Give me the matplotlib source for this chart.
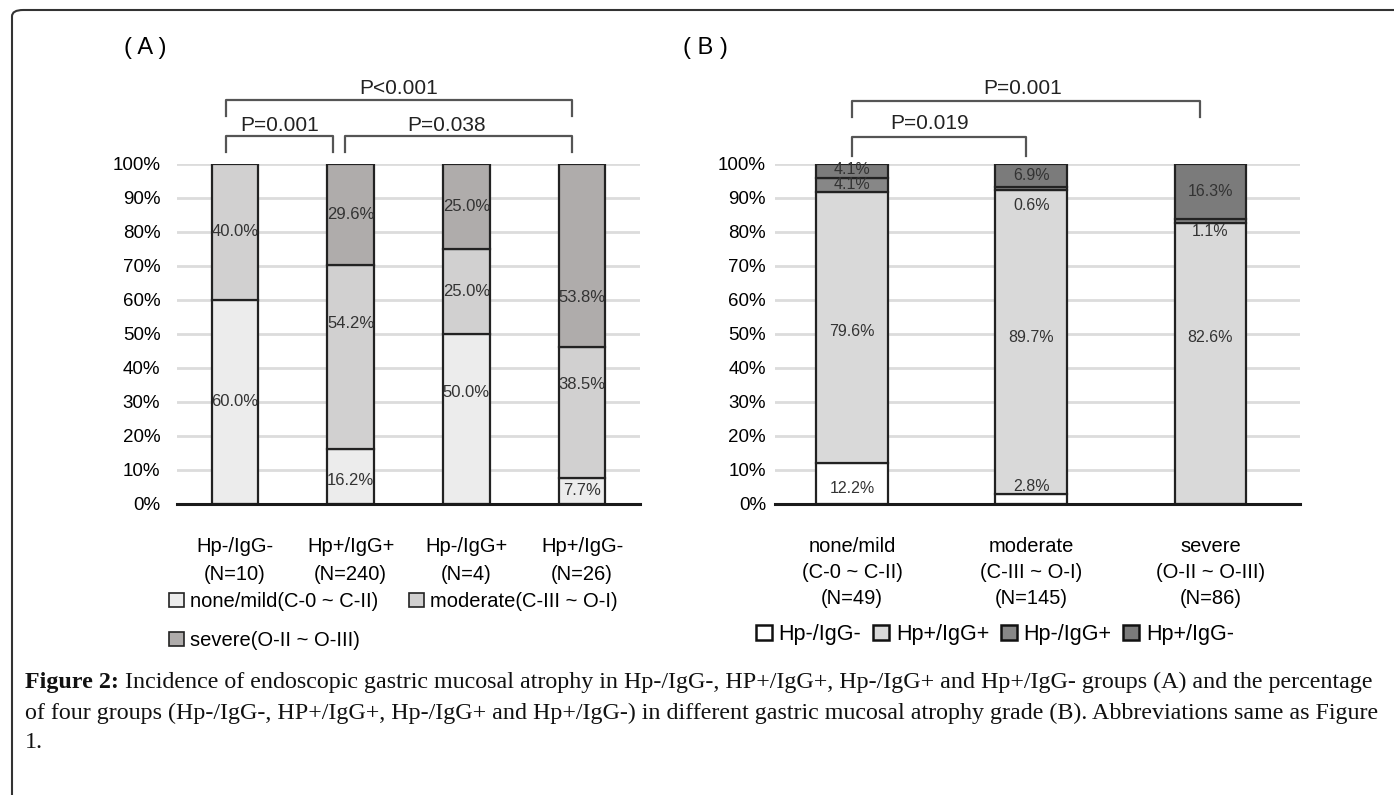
import numpy as np
import matplotlib
matplotlib.use("Agg")
import matplotlib.pyplot as plt
from matplotlib.patches import Patch, FancyBboxPatch

# panel A: atrophy grade (%) within each serology group
groups_a = ["Hp-/IgG-\n(N=10)", "Hp+/IgG+\n(N=240)", "Hp-/IgG+\n(N=4)", "Hp+/IgG-\n(N=26)"]
grades_a = ["none/mild(C-0 ~ C-II)", "moderate(C-III ~ O-I)", "severe(O-II ~ O-III)"]
none_mild = [60.0, 16.2, 50.0, 7.7]
moderate = [40.0, 54.2, 25.0, 38.5]
severe = [0.0, 29.6, 25.0, 53.8]

# panel B: serology group (%) within each atrophy grade
grades_b = ["none/mild\n(C-0 ~ C-II)\n(N=49)", "moderate\n(C-III ~ O-I)\n(N=145)", "severe\n(O-II ~ O-III)\n(N=86)"]
groups_b = ["Hp-/IgG-", "Hp+/IgG+", "Hp-/IgG+", "Hp+/IgG-"]
hpn_iggn = [12.2, 2.8, 0.0]
hpp_iggp = [79.6, 89.7, 82.6]
hpn_iggp = [4.1, 0.6, 1.1]
hpp_iggn = [4.1, 6.9, 16.3]

plt.rcParams['font.family'] = ['Liberation Sans', 'DejaVu Sans']

W, H = 1394, 795
fig = plt.figure(figsize=(W / 100, H / 100), dpi=100)


def px_axes(left, right, top, bottom):
	return fig.add_axes([left / W, 1 - bottom / H, (right - left) / W, (bottom - top) / H])


def style_axes(ax, ypad):
	ax.set_ylim(0, 100)
	ax.set_yticks(np.arange(0, 101, 10))
	ax.set_yticklabels([f"{v}%" for v in range(0, 101, 10)], fontsize=13.5)
	ax.yaxis.grid(True, color="#dcdcdc", lw=2)
	ax.set_axisbelow(True)
	for s in ["left", "right", "top"]:
		ax.spines[s].set_visible(False)
	ax.spines["bottom"].set_linewidth(2.2)
	ax.spines["bottom"].set_color("#1a1a1a")
	ax.tick_params(axis="both", length=0)
	ax.tick_params(axis="y", pad=ypad)
	ax.tick_params(axis="x", pad=24)


def stack(ax, series, colors, label_size, label_offsets={}):
	x = np.arange(len(series[0]))
	bottom = np.zeros(len(x))
	for k, (vals, col) in enumerate(zip(series, colors)):
		vals = np.array(vals)
		for i in range(len(x)):
			if vals[i] <= 0:
				continue
			ax.bar(x[i], vals[i], bottom=bottom[i], width=0.4, color=col,
				edgecolor="#222222", linewidth=1.6)
			dy = label_offsets.get((k, i), 0)
			ax.annotate(f"{vals[i]:.1f}%", (x[i], bottom[i] + vals[i] / 2),
				xytext=(0, dy), textcoords="offset points",
				ha="center", va="center", fontsize=label_size, color="#333333")
		bottom += vals
	return x


def bracket(ax, x0, x1, y_top, y_end, text, y_text, x_text=None):
	ax.plot([x0, x0, x1, x1], [y_end, y_top, y_top, y_end], color="#555555",
		lw=1.6, clip_on=False)
	if x_text is None:
		x_text = (x0 + x1) / 2
	ax.text(x_text, y_text, text, ha="center", va="center", fontsize=15,
		color="#222222", clip_on=False)


# ---- panel A ----
colors_a = ["#ececec", "#d1d0d0", "#afacab"]
ax1 = px_axes(177, 640, 164, 504)
xa = stack(ax1, [none_mild, moderate, severe], colors_a, 12,
	label_offsets={(0, 2): 19, (1, 1): 24, (1, 3): 20, (2, 3): -30, (0, 1): -3})
ax1.set_xlim(-0.5, 3.5)
ax1.set_xticks(xa)
ax1.set_xticklabels(groups_a, fontsize=14.5, linespacing=1.6)
style_axes(ax1, 12)
bracket(ax1, -0.08, 2.91, 118.7, 114.0, "P<0.001", 122.3)
bracket(ax1, -0.08, 0.85, 108.2, 103.5, "P=0.001", 111.2)
bracket(ax1, 0.95, 2.91, 108.2, 103.5, "P=0.038", 111.2, x_text=1.83)
fig.text(145 / W, 1 - 48 / H, "( A )", fontsize=17, ha="center", va="center")

h_a = [Patch(facecolor=c, edgecolor="#222222", lw=1.2, label=l) for c, l in zip(colors_a, grades_a)]
fig.legend(handles=[h_a[0], h_a[2], h_a[1]], ncol=2, loc="upper left",
	bbox_to_anchor=(169 / W, 1 - 592 / H), frameon=False, fontsize=14.5,
	handlelength=0.75, handleheight=0.75, handletextpad=0.3, columnspacing=1.5,
	labelspacing=1.0, borderpad=0, borderaxespad=0)

# ---- panel B ----
colors_b = ["#ffffff", "#d9d9d9", "#878787", "#7b7b7b"]
ax2 = px_axes(775, 1300, 164, 504)
xb = stack(ax2, [hpn_iggn, hpp_iggp, hpn_iggp, hpp_iggn], colors_b, 11.5,
	label_offsets={(0, 0): -4, (0, 1): 9, (1, 0): -3, (1, 1): 3, (1, 2): 19,
		(2, 1): -12, (2, 2): -7, (3, 0): 1})
ax2.set_xlim(-0.43, 2.5)
ax2.set_xticks(xb)
ax2.set_xticklabels(grades_b, fontsize=14.5, linespacing=1.45)
style_axes(ax2, 6.5)
bracket(ax2, 0.0, 1.94, 118.5, 113.8, "P=0.001", 122.3, x_text=0.95)
bracket(ax2, 0.0, 0.97, 107.8, 102.5, "P=0.019", 111.9, x_text=0.43)
fig.text(705 / W, 1 - 48 / H, "( B )", fontsize=17, ha="center", va="center")

h_b = [Patch(facecolor=c, edgecolor="#111111", lw=1.8, label=l) for c, l in zip(colors_b, groups_b)]
fig.legend(handles=h_b, ncol=4, loc="upper left", bbox_to_anchor=(756 / W, 1 - 624 / H),
	frameon=False, fontsize=15.5, handlelength=0.75, handleheight=0.75,
	handletextpad=0.3, columnspacing=0.55, borderpad=0, borderaxespad=0)

# ---- frame and caption ----
frame = FancyBboxPatch((12 / W, -0.05), 1.2, 1 - 10 / H + 0.05,
	boxstyle="round,pad=0,rounding_size=0.008", transform=fig.transFigure,
	facecolor="none", edgecolor="#333333", lw=1.5, clip_on=False)
fig.patches.append(frame)

cap_font = dict(family="Liberation Serif", fontsize=17.3, color="#111111")
t1 = fig.text(25 / W, 1 - 688 / H, "Figure 2:", fontweight="bold", va="baseline", **cap_font)
plt.annotate(" Incidence of endoscopic gastric mucosal atrophy in Hp-/IgG-, HP+/IgG+, Hp-/IgG+ and Hp+/IgG- groups (A) and the percentage",
	xy=(1, 0), xycoords=t1, va="bottom", ha="left", annotation_clip=False, **cap_font)
fig.text(25 / W, 1 - 719 / H,
	"of four groups (Hp-/IgG-, HP+/IgG+, Hp-/IgG+ and Hp+/IgG-) in different gastric mucosal atrophy grade (B). Abbreviations same as Figure",
	va="baseline", **cap_font)
fig.text(25 / W, 1 - 748 / H, "1.", va="baseline", **cap_font)

fig.savefig("out.png", dpi=100)
